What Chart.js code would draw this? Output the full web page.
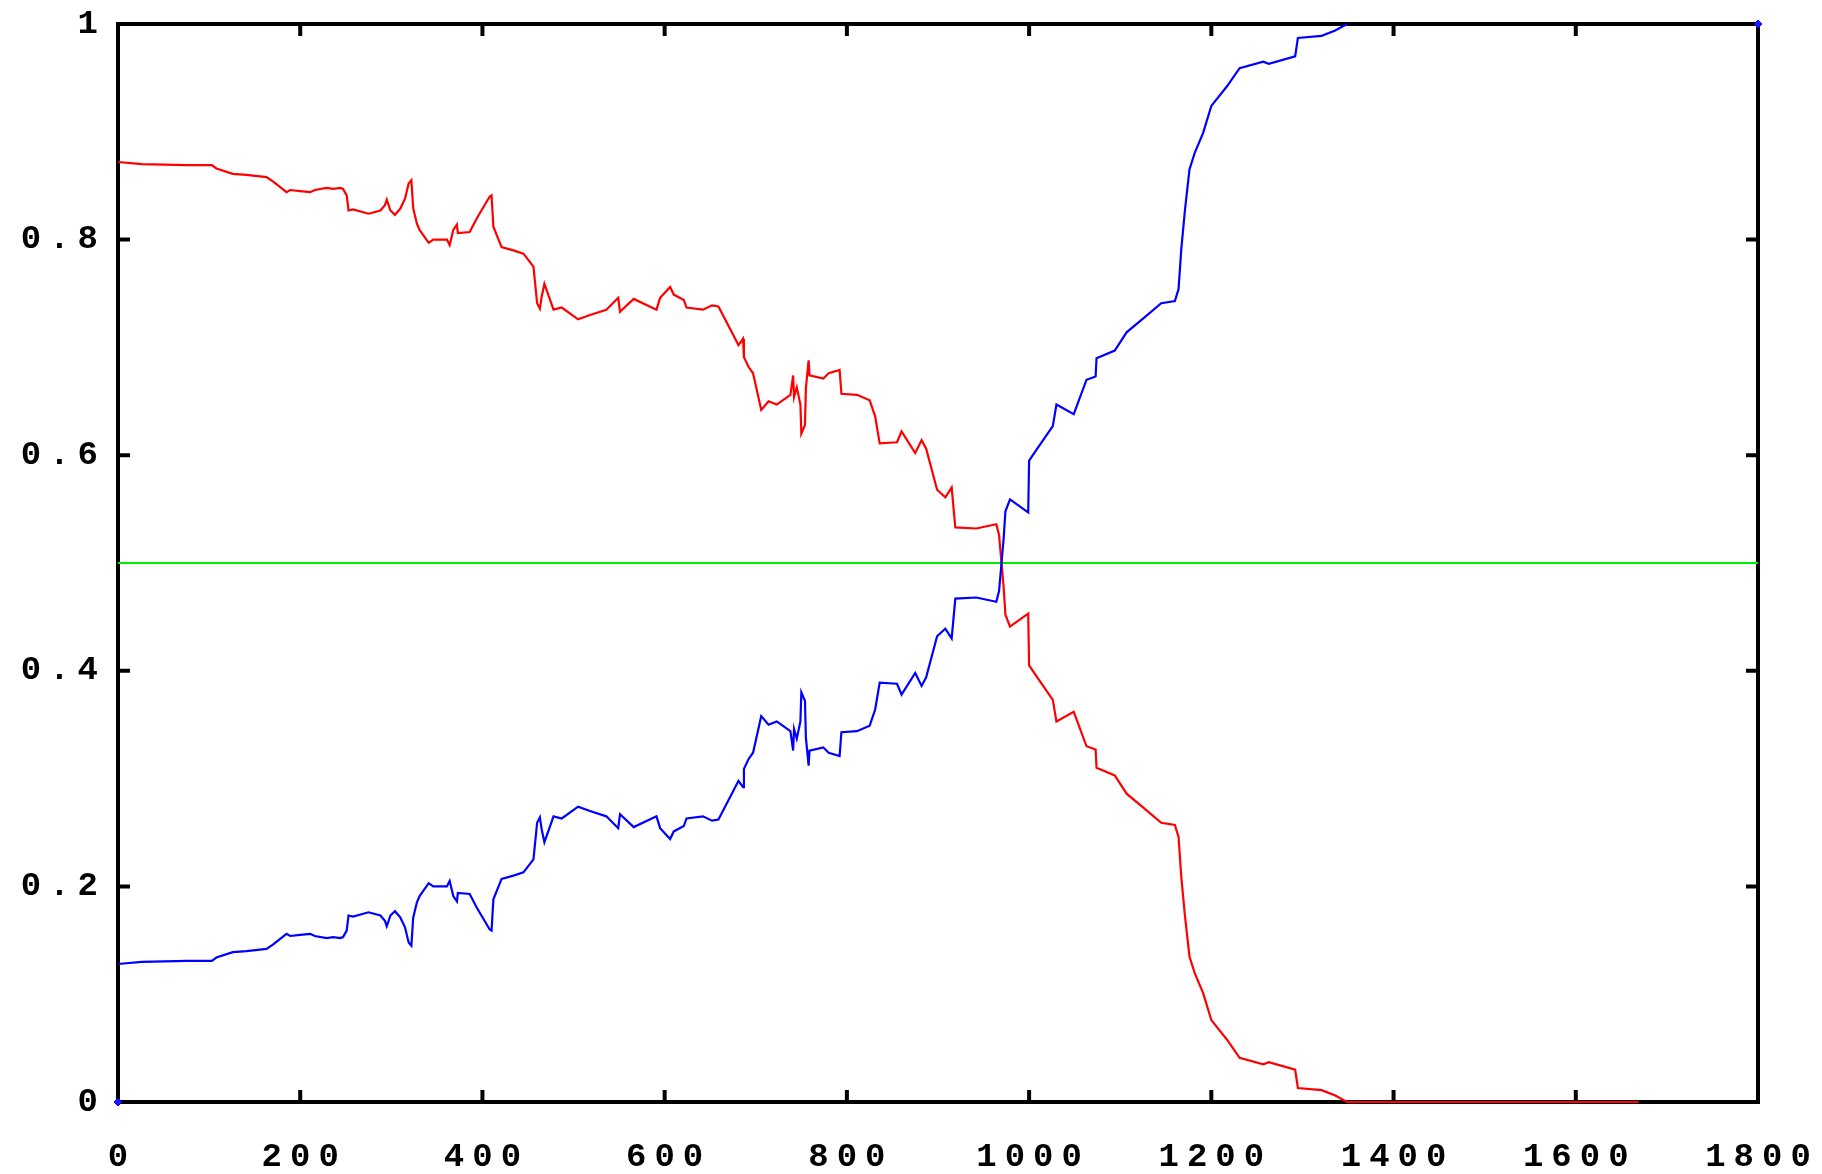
<!DOCTYPE html>
<html>
<head>
<meta charset="utf-8">
<script src="https://cdn.jsdelivr.net/npm/chart.js@4.4.1/dist/chart.umd.min.js"></script>
<style>
html,body{margin:0;padding:0;background:#fff;}
canvas{display:block;}
</style>
</head>
<body>
<canvas id="c" width="1822" height="1174"></canvas>
<script>
// ---- data ----
const xValues = [
  0,26,76,103,108,126,141,163,170,185,
  189,200,211,216,229,236,244,247,251,253,
  258,275,288,293,295,299,304,310,315,319,
  322,324,328,331,341,346,361,364,368,372,
  373,386,394,408,410,412,421,434,445,456,
  460,463,465,468,473,478,487,505,518,536,
  549,551,566,591,595,606,610,621,624,642,
  652,659,675,681,686,687,692,697,706,714,
  723,738,741,742,745,749,750,754,755,758,
  759,774,780,792,794,811,825,831,836,855,
  860,875,882,887,899,908,915,919,942,964,
  967,972,974,979,999,1000,1008,1026,1030,1049,
  1063,1073,1074,1094,1107,1127,1145,1160,1164,1167,
  1171,1176,1182,1191,1200,1217,1231,1257,1263,1292,
  1295,1321,1336,1349,1669
];
const redValues = [
  .872,.870,.869,.869,.866,.861,.860,.858,.854,.844,
  .846,.845,.844,.846,.848,.847,.848,.847,.841,.827,
  .828,.824,.827,.832,.837,.827,.823,.829,.838,.852,
  .855,.829,.815,.809,.797,.800,.800,.795,.809,.814,
  .806,.807,.820,.840,.841,.812,.793,.790,.787,.775,
  .741,.736,.747,.759,.747,.735,.737,.726,.730,.735,
  .746,.733,.745,.735,.746,.756,.749,.744,.737,.735,
  .739,.738,.712,.702,.708,.691,.682,.676,.642,.650,
  .647,.656,.674,.654,.663,.647,.620,.628,.662,.688,
  .674,.671,.676,.679,.657,.656,.651,.636,.611,.612,
  .622,.602,.614,.606,.568,.561,.570,.533,.532,.536,
  .526,.478,.452,.441,.453,.405,.395,.373,.353,.362,
  .330,.327,.310,.303,.286,.272,.259,.257,.246,.209,
  .173,.135,.119,.101,.076,.058,.041,.035,.037,.030,
  .013,.011,.006,0,0
];
const blueValues = [
  .128,.130,.131,.131,.134,.139,.140,.142,.146,.156,
  .154,.155,.156,.154,.152,.153,.152,.153,.159,.173,
  .172,.176,.173,.168,.163,.173,.177,.171,.162,.148,
  .145,.171,.185,.191,.203,.200,.200,.205,.191,.186,
  .194,.193,.180,.160,.159,.188,.207,.210,.213,.225,
  .259,.264,.253,.241,.253,.265,.263,.274,.270,.265,
  .254,.267,.255,.265,.254,.244,.251,.256,.263,.265,
  .261,.262,.288,.298,.292,.309,.318,.324,.358,.350,
  .353,.344,.326,.346,.337,.353,.380,.372,.338,.312,
  .326,.329,.324,.321,.343,.344,.349,.364,.389,.388,
  .378,.398,.386,.394,.432,.439,.430,.467,.468,.464,
  .474,.522,.548,.559,.547,.595,.605,.627,.647,.638,
  .670,.673,.690,.697,.714,.728,.741,.743,.754,.791,
  .827,.865,.881,.899,.924,.942,.959,.965,.963,.970,
  .987,.989,.994,1,null
];
const thresholdX = [0, 1800];
const thresholdY = [0.5, 0.5];
const cornerX = [0, 1800];
const cornerY = [0, 1];
const xTickLabels = ['0','200','400','600','800','1000','1200','1400','1600','1800'];
const yTickLabels = ['0','0.2','0.4','0.6','0.8','1'];

const toPts = (xs, ys) => xs.map((x, i) => ({x: x, y: ys[i]}));

const spacingPlugin = {
  id: 'spacing',
  beforeUpdate(chart) { chart.ctx.letterSpacing = '8px'; },
  beforeDraw(chart) { chart.ctx.letterSpacing = '8px'; }
};

const framePlugin = {
  id: 'frame',
  beforeDatasetsDraw(chart) {
    const ctx = chart.ctx;
    const a = chart.chartArea;
    const xs = chart.scales.x, ys = chart.scales.y;
    ctx.save();
    ctx.strokeStyle = '#000';
    ctx.lineWidth = 4;
    ctx.lineCap = 'square';
    ctx.strokeRect(a.left, a.top, a.right - a.left, a.bottom - a.top);
    const tl = 12;
    ctx.beginPath();
    xs.ticks.forEach(t => {
      const px = xs.getPixelForValue(t.value);
      ctx.moveTo(px, a.bottom); ctx.lineTo(px, a.bottom - tl);
      ctx.moveTo(px, a.top); ctx.lineTo(px, a.top + tl);
    });
    ys.ticks.forEach(t => {
      const py = ys.getPixelForValue(t.value);
      ctx.moveTo(a.left, py); ctx.lineTo(a.left + tl, py);
      ctx.moveTo(a.right, py); ctx.lineTo(a.right - tl, py);
    });
    ctx.lineCap = 'butt';
    ctx.stroke();
    ctx.restore();
  }
};

const tickFont = {family: '"Liberation Mono", "DejaVu Sans Mono", monospace', size: 34, weight: 'bold'};

new Chart(document.getElementById('c'), {
  type: 'scatter',
  data: {
    datasets: [
      {label: 'corners', data: toPts(cornerX, cornerY), showLine: false, pointRadius: 4, pointStyle: 'rectRot',
       backgroundColor: '#1a1aff', borderColor: '#0000ff', borderWidth: 1, clip: false, order: 0},
      {label: 'red', data: toPts(xValues, redValues), showLine: true, borderColor: '#ff0000', borderWidth: 2.2,
       pointRadius: 0, tension: 0, spanGaps: false, clip: 4, order: 2},
      {label: 'blue', data: toPts(xValues, blueValues), showLine: true, borderColor: '#0000ff', borderWidth: 2.2,
       pointRadius: 0, tension: 0, spanGaps: false, clip: 4, order: 1},
      {label: 'threshold', data: toPts(thresholdX, thresholdY), showLine: true, borderColor: '#00ee00', borderWidth: 2,
       pointRadius: 0, tension: 0, clip: 4, order: 3}
    ]
  },
  options: {
    responsive: false,
    devicePixelRatio: 1,
    animation: false,
    events: [],
    layout: {padding: {top: 24, right: 64, left: 0, bottom: 0}},
    plugins: {legend: {display: false}, tooltip: {enabled: false}},
    scales: {
      x: {
        type: 'linear', min: 0, max: 1800,
        grid: {display: false, drawTicks: false},
        border: {display: false},
        ticks: {stepSize: 200, color: '#000', font: tickFont, padding: 35, maxRotation: 0, autoSkip: false,
                labelOffset: 4, callback: (v, i) => xTickLabels[i]},
        afterFit: s => { s.height = 72; s.paddingLeft = 0; s.paddingRight = 0; }
      },
      y: {
        type: 'linear', min: 0, max: 1,
        grid: {display: false, drawTicks: false},
        border: {display: false},
        ticks: {stepSize: 0.2, color: '#000', font: tickFont, padding: 12, autoSkip: false,
                callback: (v, i) => yTickLabels[i]},
        afterFit: s => { s.width = 118; s.paddingTop = 0; s.paddingBottom = 0; }
      }
    }
  },
  plugins: [spacingPlugin, framePlugin]
});
</script>
</body>
</html>
